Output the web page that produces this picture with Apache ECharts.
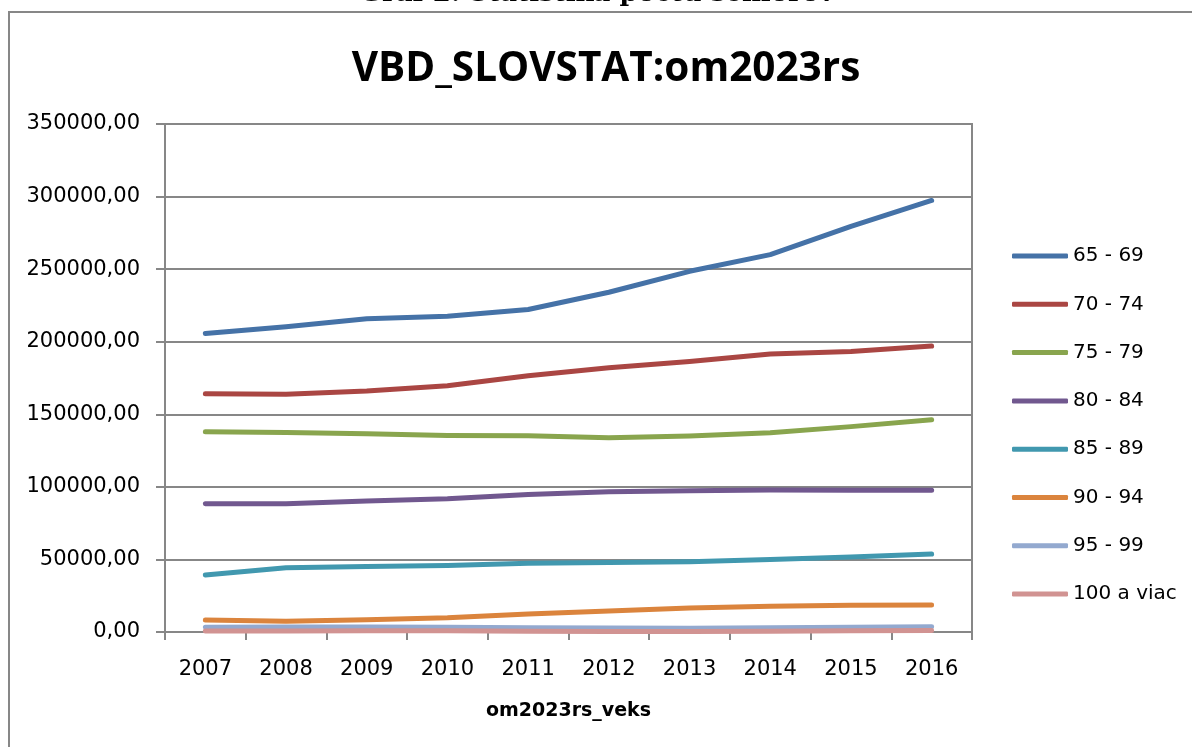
<!DOCTYPE html>
<html>
<head>
<meta charset="utf-8">
<script src="https://cdn.jsdelivr.net/npm/echarts@6/dist/echarts.min.js"></script>
<style>
  html, body { margin: 0; padding: 0; background: #fff; }
  #chart { width: 1192px; height: 747px; }
</style>
</head>
<body>
<div id="chart"></div>
<script>
// roky a vekove skupiny
const years = ['2007', '2008', '2009', '2010', '2011', '2012', '2013', '2014', '2015', '2016'];
const ageGroups = ['65 - 69', '70 - 74', '75 - 79', '80 - 84', '85 - 89', '90 - 94', '95 - 99', '100 a viac'];

// hodnoty odcitane z grafu
const age65 = [205700, 210300, 215800, 217600, 222200, 234100, 248500, 260000, 279400, 297300];
const age70 = [164200, 163800, 166000, 169700, 176600, 182000, 186300, 191600, 193200, 197000];
const age75 = [138000, 137400, 136600, 135300, 135200, 133900, 135000, 137300, 141500, 146300];
const age80 = [88300, 88400, 90200, 91800, 94800, 96600, 97300, 97800, 97700, 97700];
const age85 = [39300, 44200, 45200, 45900, 47300, 47800, 48400, 50000, 51700, 53700];
const age90 = [8300, 7400, 8500, 9800, 12400, 14500, 16600, 17700, 18400, 18600];
const age95 = [3300, 3400, 3400, 3300, 3000, 2700, 2600, 2900, 3300, 3700];
const age100 = [700, 700, 800, 800, 600, 400, 400, 600, 900, 1100];

const allValues = [age65, age70, age75, age80, age85, age90, age95, age100];
const colors = ['#4572A7', '#AA4643', '#89A54E', '#71588F', '#4198AF', '#DB843D', '#93A9CF', '#D19392'];

const gray = '#878787';
const font = 'DejaVu Sans';

var chart = echarts.init(document.getElementById('chart'));

var series = ageGroups.map(function (name, i) {
    return {
        name: name,
        type: 'line',
        data: allValues[i],
        symbol: 'none',
        smooth: false,
        color: colors[i],
        lineStyle: { width: 5, color: colors[i], cap: 'round', join: 'round' },
        emphasis: { disabled: true }
    };
});

var option = {
    animation: false,
    backgroundColor: '#fff',
    grid: {
        left: 165, right: 220, top: 124, bottom: 115,
        show: true, borderColor: gray, borderWidth: 2
    },
    legend: {
        orient: 'vertical',
        left: 1012,
        top: 246,
        padding: 0,
        itemWidth: 56,
        itemHeight: 5,
        itemGap: 28.3,
        icon: 'roundRect',
        data: ageGroups,
        textStyle: { fontFamily: font, fontSize: 20, color: '#000', lineHeight: 20 }
    },
    xAxis: {
        type: 'category',
        data: years,
        boundaryGap: true,
        name: 'om2023rs_veks',
        nameLocation: 'middle',
        nameGap: 70,
        nameTextStyle: { fontFamily: font, fontSize: 19, fontWeight: 'bold', color: '#000' },
        axisLine: { lineStyle: { color: gray, width: 2 } },
        axisTick: { show: true, length: 8, interval: 0, lineStyle: { color: gray, width: 2 } },
        axisLabel: { fontFamily: font, fontSize: 21, color: '#000', margin: 27, interval: 0 }
    },
    yAxis: {
        type: 'value',
        min: 0,
        max: 350000,
        interval: 50000,
        axisLine: { show: true, lineStyle: { color: gray, width: 2 } },
        axisTick: { show: true, length: 9, lineStyle: { color: gray, width: 2 } },
        splitLine: { lineStyle: { color: gray, width: 2 } },
        axisLabel: {
            fontFamily: font, fontSize: 21, color: '#000', margin: 25,
            formatter: function (v) { return v.toFixed(2).replace('.', ','); }
        }
    },
    graphic: [
        {
            type: 'rect',
            shape: { x: 9, y: 12, width: 1400, height: 1000 },
            style: { fill: 'none', stroke: gray, lineWidth: 2 },
            silent: true
        },
        {
            type: 'text',
            style: {
                text: 'Graf 2: Štatistika počtu seniorov',
                x: 597, y: 7,
                align: 'center', verticalAlign: 'bottom',
                font: 'bold 26px "DejaVu Serif"',
                fill: '#000'
            },
            silent: true
        },
        {
            type: 'text',
            style: {
                text: 'VBD_SLOVSTAT:om2023rs',
                x: 606, y: 69,
                align: 'center', verticalAlign: 'middle',
                font: 'bold 40.5px "Open Sans"',
                fill: '#000'
            },
            silent: true
        }
    ],
    series: series
};

chart.setOption(option);
</script>
</body>
</html>
